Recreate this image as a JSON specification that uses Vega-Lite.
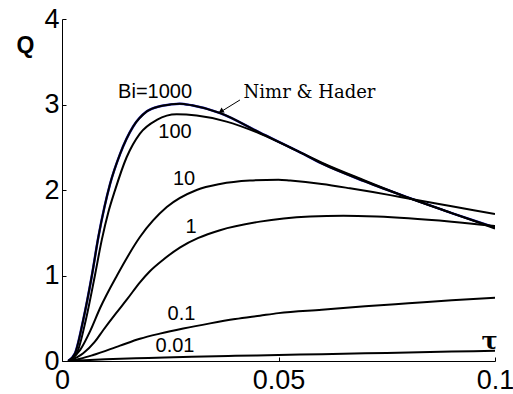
{
  "$schema": "https://vega.github.io/schema/vega-lite/v6.json",
  "width": 433,
  "height": 342,
  "autosize": {"type": "none"},
  "padding": {"left": 62, "top": 19, "right": 18, "bottom": 33},
  "background": "white",
  "config": {
    "view": {"stroke": null},
    "axis": {
      "grid": false,
      "domainColor": "black",
      "domainWidth": 1,
      "tickColor": "black",
      "tickSize": -4,
      "tickWidth": 1,
      "labelFont": "Liberation Sans, Arial, sans-serif",
      "labelFontSize": 27,
      "labelColor": "black",
      "labelFlush": false,
      "labelOverlap": false
    }
  },
  "datasets": {
    "curves": [
      {"series": "1000", "t": 0.0014, "q": 0},
      {"series": "1000", "t": 0.003, "q": 0.09},
      {"series": "1000", "t": 0.0049, "q": 0.48},
      {"series": "1000", "t": 0.0069, "q": 1.0},
      {"series": "1000", "t": 0.0084, "q": 1.45},
      {"series": "1000", "t": 0.0098, "q": 1.8},
      {"series": "1000", "t": 0.0111, "q": 2.07},
      {"series": "1000", "t": 0.0134, "q": 2.42},
      {"series": "1000", "t": 0.0164, "q": 2.74},
      {"series": "1000", "t": 0.0196, "q": 2.92},
      {"series": "1000", "t": 0.0226, "q": 2.98},
      {"series": "1000", "t": 0.025, "q": 3.0},
      {"series": "1000", "t": 0.0272, "q": 3.01},
      {"series": "1000", "t": 0.03, "q": 2.99},
      {"series": "1000", "t": 0.0365, "q": 2.9},
      {"series": "1000", "t": 0.0457, "q": 2.67},
      {"series": "1000", "t": 0.055, "q": 2.44},
      {"series": "1000", "t": 0.06, "q": 2.31},
      {"series": "1000", "t": 0.07, "q": 2.1},
      {"series": "1000", "t": 0.08, "q": 1.91},
      {"series": "1000", "t": 0.09, "q": 1.73},
      {"series": "1000", "t": 0.1, "q": 1.56},
      {"series": "100", "t": 0.0014, "q": 0},
      {"series": "100", "t": 0.0034, "q": 0.09},
      {"series": "100", "t": 0.0055, "q": 0.48},
      {"series": "100", "t": 0.0076, "q": 1.0},
      {"series": "100", "t": 0.0092, "q": 1.42},
      {"series": "100", "t": 0.0107, "q": 1.74},
      {"series": "100", "t": 0.0122, "q": 1.99},
      {"series": "100", "t": 0.0149, "q": 2.38},
      {"series": "100", "t": 0.018, "q": 2.66},
      {"series": "100", "t": 0.0219, "q": 2.82},
      {"series": "100", "t": 0.0265, "q": 2.885},
      {"series": "100", "t": 0.0311, "q": 2.87},
      {"series": "100", "t": 0.038, "q": 2.8},
      {"series": "100", "t": 0.0457, "q": 2.66},
      {"series": "100", "t": 0.055, "q": 2.44},
      {"series": "100", "t": 0.06, "q": 2.32},
      {"series": "100", "t": 0.07, "q": 2.11},
      {"series": "100", "t": 0.08, "q": 1.91},
      {"series": "100", "t": 0.09, "q": 1.73},
      {"series": "100", "t": 0.1, "q": 1.55},
      {"series": "10", "t": 0.0016, "q": 0},
      {"series": "10", "t": 0.0042, "q": 0.13},
      {"series": "10", "t": 0.0065, "q": 0.35},
      {"series": "10", "t": 0.0088, "q": 0.62},
      {"series": "10", "t": 0.0127, "q": 1.0},
      {"series": "10", "t": 0.018, "q": 1.45},
      {"series": "10", "t": 0.0242, "q": 1.8},
      {"series": "10", "t": 0.0311, "q": 2.0},
      {"series": "10", "t": 0.0365, "q": 2.07},
      {"series": "10", "t": 0.0434, "q": 2.11},
      {"series": "10", "t": 0.05, "q": 2.12},
      {"series": "10", "t": 0.0527, "q": 2.11},
      {"series": "10", "t": 0.06, "q": 2.07},
      {"series": "10", "t": 0.0665, "q": 2.02},
      {"series": "10", "t": 0.0758, "q": 1.94},
      {"series": "10", "t": 0.08, "q": 1.9},
      {"series": "10", "t": 0.09, "q": 1.81},
      {"series": "10", "t": 0.1, "q": 1.72},
      {"series": "1", "t": 0.0016, "q": 0},
      {"series": "1", "t": 0.0049, "q": 0.09},
      {"series": "1", "t": 0.0075, "q": 0.22},
      {"series": "1", "t": 0.0095, "q": 0.36},
      {"series": "1", "t": 0.0125, "q": 0.56},
      {"series": "1", "t": 0.015, "q": 0.72},
      {"series": "1", "t": 0.018, "q": 0.92},
      {"series": "1", "t": 0.0203, "q": 1.05},
      {"series": "1", "t": 0.0235, "q": 1.19},
      {"series": "1", "t": 0.0273, "q": 1.33},
      {"series": "1", "t": 0.0315, "q": 1.44},
      {"series": "1", "t": 0.0365, "q": 1.53},
      {"series": "1", "t": 0.0457, "q": 1.63},
      {"series": "1", "t": 0.0573, "q": 1.69},
      {"series": "1", "t": 0.065, "q": 1.7},
      {"series": "1", "t": 0.0727, "q": 1.69},
      {"series": "1", "t": 0.08, "q": 1.67},
      {"series": "1", "t": 0.09, "q": 1.63},
      {"series": "1", "t": 0.1, "q": 1.58},
      {"series": "0.1", "t": 0.0016, "q": 0},
      {"series": "0.1", "t": 0.0045, "q": 0.03},
      {"series": "0.1", "t": 0.0072, "q": 0.07},
      {"series": "0.1", "t": 0.0134, "q": 0.18},
      {"series": "0.1", "t": 0.018, "q": 0.26},
      {"series": "0.1", "t": 0.0226, "q": 0.32},
      {"series": "0.1", "t": 0.028, "q": 0.38},
      {"series": "0.1", "t": 0.0342, "q": 0.44},
      {"series": "0.1", "t": 0.04, "q": 0.49},
      {"series": "0.1", "t": 0.0457, "q": 0.53},
      {"series": "0.1", "t": 0.05, "q": 0.56},
      {"series": "0.1", "t": 0.06, "q": 0.6},
      {"series": "0.1", "t": 0.07, "q": 0.64},
      {"series": "0.1", "t": 0.08, "q": 0.675},
      {"series": "0.1", "t": 0.09, "q": 0.71},
      {"series": "0.1", "t": 0.1, "q": 0.74},
      {"series": "0.01", "t": 0.0016, "q": 0},
      {"series": "0.01", "t": 0.01, "q": 0.02},
      {"series": "0.01", "t": 0.02, "q": 0.035},
      {"series": "0.01", "t": 0.03, "q": 0.05},
      {"series": "0.01", "t": 0.04, "q": 0.06},
      {"series": "0.01", "t": 0.05, "q": 0.07},
      {"series": "0.01", "t": 0.06, "q": 0.08},
      {"series": "0.01", "t": 0.07, "q": 0.09},
      {"series": "0.01", "t": 0.08, "q": 0.1},
      {"series": "0.01", "t": 0.09, "q": 0.11},
      {"series": "0.01", "t": 0.1, "q": 0.12}
    ],
    "labels": [
      {"text": "Bi=1000", "t": 0.0215, "q": 3.146},
      {"text": "100", "t": 0.0261, "q": 2.673},
      {"text": "10", "t": 0.02818, "q": 2.123},
      {"text": "1", "t": 0.0298, "q": 1.573},
      {"text": "0.1", "t": 0.0276, "q": 0.544},
      {"text": "0.01", "t": 0.0261, "q": 0.17}
    ],
    "note": [
      {"text": "Nimr & Hader", "t": 0.05716, "q": 3.135}
    ],
    "arrow": [
      {"t": 0.0411, "q": 3.053, "t2": 0.0362, "q2": 2.9}
    ],
    "head": [
      {"t": 0.0367, "q": 2.92}
    ]
  },
  "layer": [
    {
      "data": {"name": "curves"},
      "transform": [{"filter": "datum.series === '1000'"}],
      "mark": {"type": "line", "color": "#2b2bd0", "strokeWidth": 2.5, "clip": true, "interpolate": "monotone"},
      "encoding": {
        "x": {
          "field": "t", "type": "quantitative",
          "scale": {"domain": [0, 0.1], "nice": false, "zero": false},
          "axis": {"values": [0, 0.05, 0.1], "format": "~g", "labelPadding": 10,
                   "title": "τ", "titleFont": "DejaVu Serif", "titleFontSize": 24, "titleFontWeight": "bold",
                   "titleColor": "black", "titleX": 427, "titleY": -20, "titleAlign": "center", "titleBaseline": "middle"}
        },
        "y": {
          "field": "q", "type": "quantitative",
          "scale": {"domain": [0, 4], "nice": false},
          "axis": {"values": [0, 1, 2, 3, 4], "format": "~g", "labelPadding": 7,
                   "title": "Q", "titleFont": "Liberation Sans, Arial, sans-serif", "titleFontSize": 23, "titleFontWeight": "bold",
                   "titleColor": "black", "titleAngle": 0, "titleX": -37, "titleY": 26, "titleAlign": "center", "titleBaseline": "middle"}
        }
      }
    },
    {
      "data": {"name": "curves"},
      "mark": {"type": "line", "color": "black", "strokeWidth": 2, "clip": true, "interpolate": "monotone"},
      "encoding": {
        "x": {"field": "t", "type": "quantitative"},
        "y": {"field": "q", "type": "quantitative"},
        "detail": {"field": "series"}
      }
    },
    {
      "data": {"name": "labels"},
      "mark": {"type": "text", "font": "Liberation Sans, Arial, sans-serif", "fontSize": 20, "color": "black", "align": "center", "baseline": "middle"},
      "encoding": {
        "x": {"field": "t", "type": "quantitative"},
        "y": {"field": "q", "type": "quantitative"},
        "text": {"field": "text"}
      }
    },
    {
      "data": {"name": "note"},
      "mark": {"type": "text", "font": "DejaVu Serif", "fontSize": 18, "color": "black", "align": "center", "baseline": "middle"},
      "encoding": {
        "x": {"field": "t", "type": "quantitative"},
        "y": {"field": "q", "type": "quantitative"},
        "text": {"field": "text"}
      }
    },
    {
      "data": {"name": "arrow"},
      "mark": {"type": "rule", "color": "black", "strokeWidth": 1},
      "encoding": {
        "x": {"field": "t", "type": "quantitative"},
        "y": {"field": "q", "type": "quantitative"},
        "x2": {"field": "t2"},
        "y2": {"field": "q2"}
      }
    },
    {
      "data": {"name": "head"},
      "mark": {"type": "point", "shape": "triangle-up", "filled": true, "color": "black", "size": 35, "angle": 238.5, "opacity": 1},
      "encoding": {
        "x": {"field": "t", "type": "quantitative"},
        "y": {"field": "q", "type": "quantitative"}
      }
    }
  ]
}
